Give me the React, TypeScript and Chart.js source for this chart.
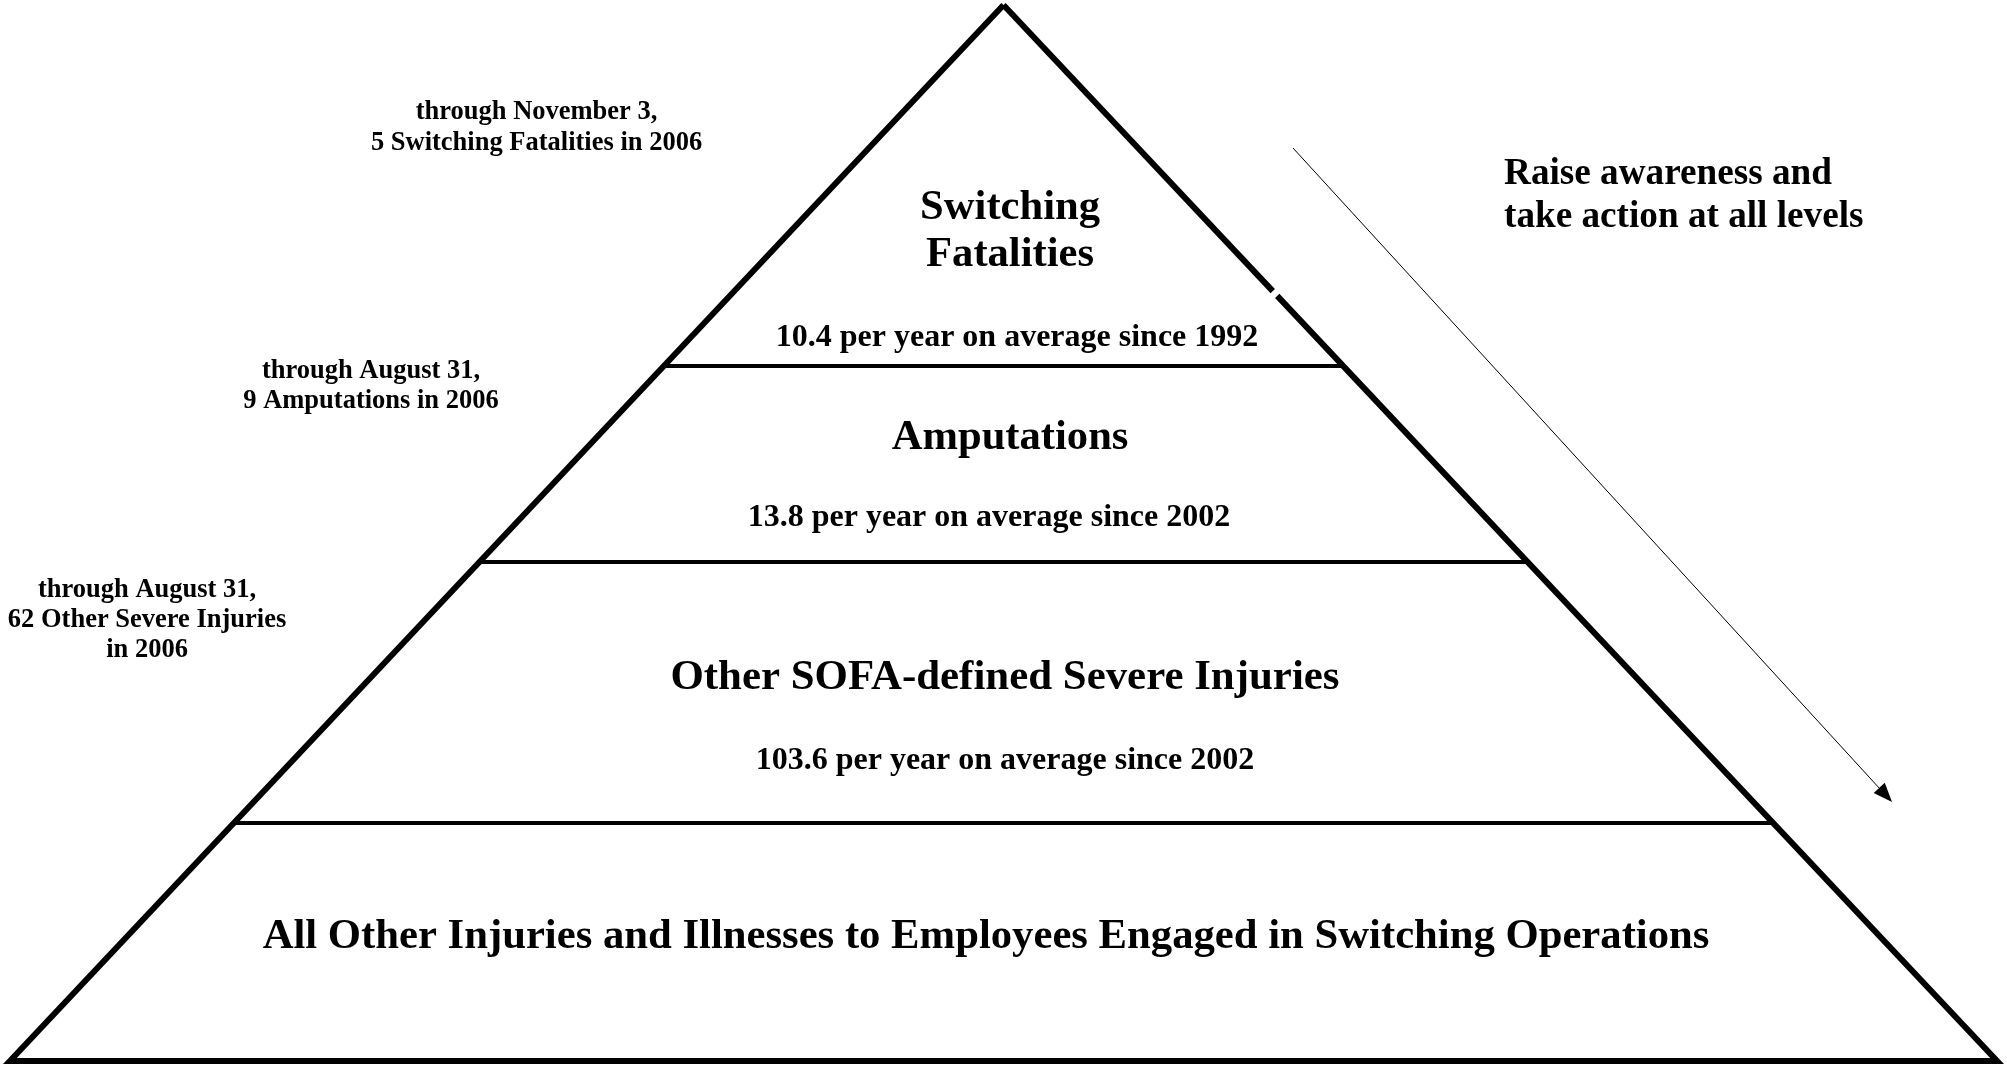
import React, { useEffect, useRef } from "react";
import { Chart, registerables } from "chart.js";

Chart.register(...registerables);

// ---- Data (pyramid heights are % of total pyramid height, base = 0, apex = 100) ----
const tierNames = [
  "All Other Injuries and Illnesses to Employees Engaged in Switching Operations",
  "Other SOFA-defined Severe Injuries",
  "Amputations",
  "Switching Fatalities",
];
const tierBoundaryHeights = [22.54, 47.25, 65.8];
const avgPerYear = [null, 103.6, 13.8, 10.4];
const avgSinceYear = [null, 2002, 2002, 1992];
const ytdCounts = [null, 62, 9, 5];
const ytdThrough = [null, "August 31", "August 31", "November 3"];
const ytdNames = [null, "Other Severe Injuries", "Amputations", "Switching Fatalities"];
const ytdYear = 2006;
const calloutLines = ["Raise awareness and", "take action at all levels"];

// ---- Layout (data-unit positions of annotations) ----
const FONT = "'Liberation Serif', 'Times New Roman', serif";
const X_MIN = -101, X_MAX = 101, Y_MIN = -0.76, Y_MAX = 100.47;

type TextItem = { lines: string[]; x: number; y: number[]; size: number; align: CanvasTextAlign };

function buildTexts(): TextItem[] {
  const items: TextItem[] = [];
  // tier titles
  items.push({ lines: ["Switching", "Fatalities"], x: 0.66, y: [80.78, 77.18 - 0.9], size: 42.6, align: "center" });
  items.push({ lines: [tierNames[2]], x: 0.66, y: [59.0], size: 42.6, align: "center" });
  items.push({ lines: [tierNames[1]], x: 0.15, y: [36.3], size: 42.9, align: "center" });
  items.push({ lines: [tierNames[0]], x: -1.76, y: [11.75], size: 42.7, align: "center" });
  // averages
  const avgPos = [null, { x: 0.15, y: 28.4 }, { x: -1.46, y: 51.45 }, { x: 1.36, y: 68.5 }];
  for (let i = 1; i < 4; i++) {
    const p = avgPos[i]!;
    items.push({
      lines: [`${avgPerYear[i]} per year on average since ${avgSinceYear[i]}`],
      x: p.x, y: [p.y], size: 32, align: "center",
    });
  }
  // year-to-date side notes
  items.push({
    lines: [`through ${ytdThrough[3]},`, `${ytdCounts[3]} ${ytdNames[3]} in ${ytdYear}`],
    x: -47.0, y: [89.81, 86.89], size: 26.5, align: "center",
  });
  items.push({
    lines: [`through ${ytdThrough[2]},`, `${ytdCounts[2]} ${ytdNames[2]} in ${ytdYear}`],
    x: -63.66, y: [65.3, 62.5], size: 26.5, align: "center",
  });
  items.push({
    lines: [`through ${ytdThrough[1]},`, `${ytdCounts[1]} ${ytdNames[1]}`, `in ${ytdYear}`],
    x: -86.2, y: [44.55, 41.77, 38.9], size: 26.5, align: "center",
  });
  // callout
  items.push({ lines: calloutLines, x: 50.38, y: [84.0, 79.9], size: 37.2, align: "left" });
  return items;
}

const arrowStart = { x: 29.14, y: 86.45 };
const arrowEnd = { x: 89.43, y: 24.53 };

const halfWidth = (h: number) => 100 * (1 - h / 100);

const textPlugin = {
  id: "pyramidText",
  afterDatasetsDraw(chart: any) {
    const { ctx, scales } = chart;
    const xs = scales.x, ys = scales.y;
    ctx.save();
    ctx.fillStyle = "#000";
    ctx.textBaseline = "middle";
    for (const t of buildTexts()) {
      ctx.font = `bold ${t.size}px ${FONT}`;
      ctx.textAlign = t.align;
      t.lines.forEach((line, i) => {
        ctx.fillText(line, xs.getPixelForValue(t.x), ys.getPixelForValue(t.y[i]));
      });
    }
    // arrow head
    const x0 = xs.getPixelForValue(arrowStart.x), y0 = ys.getPixelForValue(arrowStart.y);
    const x1 = xs.getPixelForValue(arrowEnd.x), y1 = ys.getPixelForValue(arrowEnd.y);
    const a = Math.atan2(y1 - y0, x1 - x0);
    const L = 19, W = 7.5;
    ctx.beginPath();
    ctx.moveTo(x1, y1);
    ctx.lineTo(x1 - L * Math.cos(a) + W * Math.sin(a), y1 - L * Math.sin(a) - W * Math.cos(a));
    ctx.lineTo(x1 - L * Math.cos(a) - W * Math.sin(a), y1 - L * Math.sin(a) + W * Math.cos(a));
    ctx.closePath();
    ctx.fill();
    ctx.restore();
  },
};

export default function App() {
  const ref = useRef<HTMLCanvasElement | null>(null);
  useEffect(() => {
    if (!ref.current) return;
    const gapTop = 72.9, gapBottom = 72.45;
    const lineDs = (pts: { x: number; y: number }[], w: number) => ({
      type: "scatter" as const,
      data: pts,
      showLine: true,
      borderColor: "#000",
      borderWidth: w,
      pointRadius: 0,
      fill: false,
      clip: false as any,
      borderJoinStyle: "miter" as const,
      borderCapStyle: "butt" as const,
    });
    const datasets: any[] = [
      lineDs([{ x: 0, y: 100 }, { x: -100, y: 0 }, { x: 100, y: 0 }, { x: halfWidth(gapBottom), y: gapBottom }], 6),
      lineDs([{ x: 0, y: 100 }, { x: halfWidth(gapTop), y: gapTop }], 6),
      ...tierBoundaryHeights.map((h) => lineDs([{ x: -halfWidth(h), y: h }, { x: halfWidth(h), y: h }], 4)),
      lineDs([arrowStart, { x: arrowEnd.x - 0.6, y: arrowEnd.y + 0.6 }], 1),
    ];
    const chart = new Chart(ref.current, {
      type: "scatter",
      data: { datasets },
      options: {
        animation: false,
        responsive: false,
        devicePixelRatio: 1,
        layout: { padding: 0 },
        plugins: { legend: { display: false }, tooltip: { enabled: false } },
        events: [],
        scales: {
          x: { type: "linear", min: X_MIN, max: X_MAX, display: false },
          y: { type: "linear", min: Y_MIN, max: Y_MAX, display: false },
        },
      },
      plugins: [textPlugin],
    } as any);
    return () => chart.destroy();
  }, []);
  return (
    <div style={{ position: "fixed", left: 0, top: 0, width: 2007, height: 1069, background: "#fff" }}>
      <canvas ref={ref} width={2007} height={1069} style={{ display: "block", width: 2007, height: 1069 }} />
    </div>
  );
}
